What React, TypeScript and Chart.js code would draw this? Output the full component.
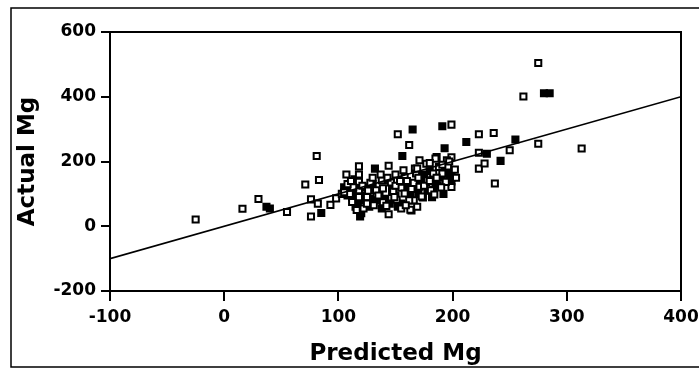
import React, { useEffect, useRef } from "react";
import { Chart, registerables } from "chart.js";

Chart.register(...registerables);

const xTickValues = [-100, 0, 100, 200, 300, 400];
const yTickValues = [-200, 0, 200, 400, 600];

const openPredicted = [-25, 16, 30, 55, 71, 81, 83, 76, 76, 82, 93, 98, 103, 107, 118, 118, 144, 152, 162, 199, 223, 236, 223, 223, 228, 237, 250, 275, 262, 275, 313, 199, 199, 186, 195, 183, 177, 174, 166, 164, 155, 144, 147, 139, 157, 167, 171, 177, 185, 122, 118, 118, 118, 128, 128, 133, 138, 139, 139, 146, 148, 151, 155, 158, 158, 162, 163, 166, 168, 169, 171, 173, 178, 181, 184, 188, 191, 194, 110, 112, 113, 108, 125, 130, 150, 160, 135, 190, 180, 196, 170, 150, 142, 125, 105, 111, 116, 121, 126, 131, 137, 143, 149, 154, 159, 164, 169, 175, 180, 186, 191, 197, 202, 203];
const openActual = [21, 54, 84, 44, 129, 217, 143, 83, 30, 70, 66, 86, 100, 160, 185, 160, 187, 284, 251, 314, 284, 288, 227, 178, 194, 132, 235, 504, 401, 255, 240, 213, 121, 214, 204, 163, 137, 89, 80, 49, 55, 37, 106, 142, 173, 178, 204, 193, 209, 55, 137, 111, 90, 134, 103, 111, 142, 117, 74, 135, 107, 82, 119, 152, 101, 80, 51, 134, 163, 178, 122, 92, 142, 111, 98, 183, 163, 137, 100, 75, 120, 130, 90, 150, 160, 140, 95, 120, 195, 185, 150, 125, 63, 70, 105, 140, 50, 125, 110, 65, 160, 150, 90, 140, 65, 115, 60, 125, 140, 150, 190, 200, 175, 150];

const filledPredicted = [37, 40, 85, 132, 165, 156, 191, 193, 212, 230, 242, 255, 280, 285, 199, 199, 199, 189, 183, 119, 120, 110, 112, 115, 120, 125, 138, 132, 145, 150, 160, 175, 185, 170, 105, 115, 155, 180, 190, 195, 112, 117, 122, 127, 130, 136, 141, 147, 152, 158, 163, 168, 172, 178, 182, 187, 192, 197, 108, 114];
const filledActual = [60, 55, 41, 178, 299, 217, 309, 241, 260, 224, 202, 268, 411, 411, 168, 150, 138, 183, 111, 30, 40, 110, 90, 130, 80, 120, 55, 80, 70, 95, 110, 160, 130, 100, 120, 60, 70, 170, 150, 175, 100, 70, 95, 60, 130, 100, 85, 120, 60, 130, 95, 120, 140, 110, 90, 125, 100, 160, 95, 145];

const fitLineX = [-100, 400];
const fitLineY = [-100, 400];

const framePlugin = {
  id: "frames",
  afterDraw(chart: any) {
    const { ctx, chartArea } = chart;
    ctx.save();
    ctx.strokeStyle = "#000";
    ctx.lineWidth = 2;
    ctx.strokeRect(chartArea.left, chartArea.top, chartArea.right - chartArea.left, chartArea.bottom - chartArea.top);
    ctx.lineWidth = 1.5;
    ctx.beginPath();
    ctx.moveTo(700, 8);
    ctx.lineTo(11, 8);
    ctx.lineTo(11, 367);
    ctx.lineTo(700, 367);
    ctx.stroke();
    ctx.restore();
  },
};

export default function App() {
  const ref = useRef<HTMLCanvasElement | null>(null);
  useEffect(() => {
    document.body.style.margin = "0";
    const canvas = ref.current;
    if (!canvas) return;
    const font = "'DejaVu Sans', sans-serif";
    const chart = new Chart(canvas, {
      type: "scatter",
      data: {
        datasets: [
          {
            type: "line",
            data: fitLineX.map((x, i) => ({ x, y: fitLineY[i] })),
            borderColor: "#000",
            borderWidth: 1.6,
            pointRadius: 0,
            fill: false,
            order: 0,
          } as any,
          {
            data: openPredicted.map((x, i) => ({ x, y: openActual[i] })),
            pointStyle: "rect",
            pointRadius: 4.3,
            borderWidth: 2,
            borderColor: "#000",
            backgroundColor: "#fff",
            order: 1,
          },
          {
            data: filledPredicted.map((x, i) => ({ x, y: filledActual[i] })),
            pointStyle: "rect",
            pointRadius: 4.3,
            borderWidth: 2,
            borderColor: "#000",
            backgroundColor: "#000",
            order: 2,
          },
        ],
      },
      options: {
        responsive: false,
        animation: false,
        devicePixelRatio: 1,
        layout: { padding: { left: 0, top: 32, right: 18, bottom: 0 } },
        plugins: { legend: { display: false }, tooltip: { enabled: false } },
        scales: {
          x: {
            type: "linear",
            min: -100,
            max: 400,
            afterBuildTicks: (s: any) => {
              s.ticks = xTickValues.map((v) => ({ value: v }));
            },
            afterFit: (s: any) => {
              s.height = 78;
              s.paddingRight = 0;
              s.paddingLeft = 0;
            },
            ticks: { color: "#000", font: { family: font, size: 17, weight: "bold" }, padding: 6, maxRotation: 0 },
            grid: { drawOnChartArea: false, drawTicks: true, tickLength: 10, color: "#000", lineWidth: 2 },
            border: { display: true, color: "#000", width: 2 },
            title: { display: true, text: "Predicted Mg", color: "#000", font: { family: font, size: 23, weight: "bold" }, padding: { top: 0, bottom: 1 } },
          },
          y: {
            type: "linear",
            min: -200,
            max: 600,
            afterBuildTicks: (s: any) => {
              s.ticks = yTickValues.map((v) => ({ value: v }));
            },
            afterFit: (s: any) => {
              s.width = 110;
              s.paddingTop = 0;
              s.paddingBottom = 0;
            },
            ticks: { color: "#000", font: { family: font, size: 17, weight: "bold" }, padding: 5 },
            grid: { drawOnChartArea: false, drawTicks: true, tickLength: 9, color: "#000", lineWidth: 2 },
            border: { display: true, color: "#000", width: 2 },
            title: { display: true, text: "Actual Mg", color: "#000", font: { family: font, size: 23, weight: "bold" }, padding: { top: 14, bottom: 0 } },
          },
        },
      },
      plugins: [framePlugin],
    });
    return () => chart.destroy();
  }, []);
  return (
    <div style={{ width: 699, height: 369 }}>
      <canvas ref={ref} width={699} height={369} />
    </div>
  );
}
